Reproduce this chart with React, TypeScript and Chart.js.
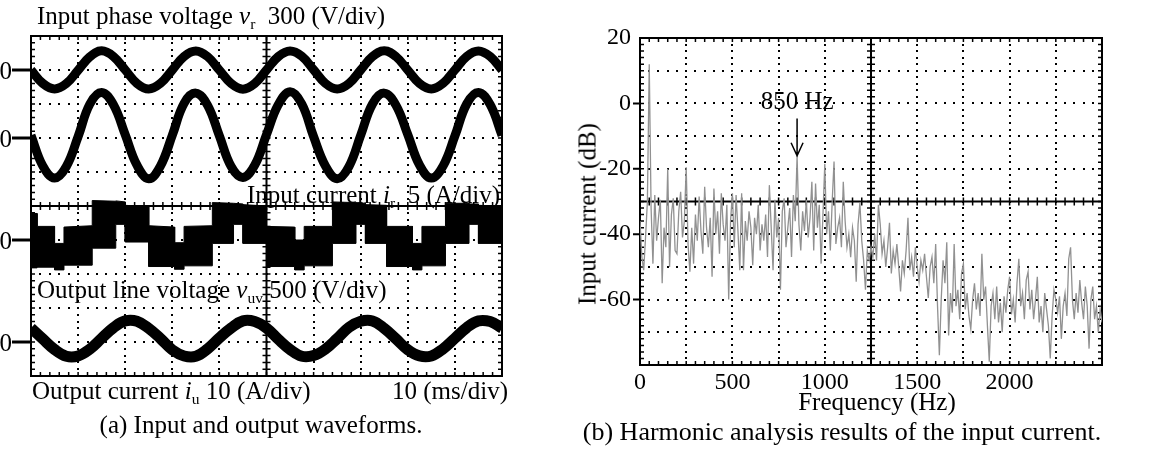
import React, { useEffect, useRef } from 'react';
import { Chart, registerables } from 'chart.js';

Chart.register(...registerables);

const SERIF = '"Liberation Serif", "Times New Roman", Times, serif';

// ---------------- (a) oscilloscope waveforms (10 ms/div) ----------------
const waveTimeMs = [
  0, 2.5, 5, 7.5, 10, 12.5, 15, 17.5, 20, 22.5, 25, 27.5, 30, 32.5, 35, 37.5, 40, 42.5, 45, 47.5,
  50, 52.5, 55, 57.5, 60, 62.5, 65, 67.5, 70, 72.5, 75, 77.5, 80, 82.5, 85, 87.5, 90, 92.5, 95, 97.5, 100,
];
// input phase voltage v_r (V), 300 V/div
const inputPhaseVoltageV = [
  0, -118, -167, -120, -2, 117, 169, 120, 1, -119, -168, -118, 0, 120, 168, 118, -1, -120, -169, -119,
  0, 118, 167, 121, 2, -118, -168, -120, 0, 119, 170, 118, -1, -119, -167, -118, 1, 120, 168, 119, 0,
];
// input current i_r (A), 5 A/div
const inputCurrentA = [
  0.4, -4.1, -5.9, -4.2, 0.2, 5.0, 6.7, 4.9, 0.5, -4.0, -6.0, -4.1, 0.4, 5.1, 6.6, 4.8, 0.3, -4.2, -5.8, -4.0,
  0.5, 4.9, 6.8, 5.0, 0.2, -4.1, -6.0, -4.2, 0.4, 5.0, 6.6, 4.8, 0.5, -4.0, -5.9, -4.1, 0.3, 5.0, 6.7, 4.9, 0.4,
];
// output current i_u (A), 10 A/div
const outputCurrentA = [
  4.1, 0.9, -2.2, -4.2, -4.1, -2.1, 1.1, 4.2, 6.2, 6.1, 4.0, 1.0, -2.3, -4.1, -4.2, -2.0, 1.2, 4.1, 6.2, 6.0,
  4.1, 0.8, -2.2, -4.2, -4.0, -2.1, 1.0, 4.3, 6.1, 6.2, 4.0, 0.9, -2.3, -4.1, -4.1, -2.0, 1.1, 4.2, 6.2, 6.0, 4.1,
];
// output line voltage v_uv (V), 500 V/div : envelope of the PWM band
const lineVoltageTimeMs = [
  0, 1.3, 1.3, 5, 5, 7, 7, 13, 13, 18, 18, 20, 20, 25, 25, 30.5, 30.5, 32.5, 32.5, 38.5, 38.5, 43, 43, 45, 45,
  50, 50, 56, 56, 58, 58, 64, 64, 69, 69, 71, 71, 75.5, 75.5, 81, 81, 83, 83, 88, 88, 93, 93, 95, 95, 100,
];
const lineVoltageUpperV = [
  390, 390, 200, 200, -50, -50, 190, 210, 580, 570, 575, 560, 510, 490, 210, 190, -40, -40, 200, 210, 550, 540, 540, 530, 520,
  500, 200, 190, 0, 0, 200, 200, 560, 550, 550, 540, 520, 510, 200, 200, -50, -50, 200, 200, 540, 540, 530, 530, 510, 500,
];
const lineVoltageLowerV = [
  -410, -410, -400, -400, -440, -440, -370, -370, -120, -120, 230, 230, -30, -30, -390, -390, -430, -430, -380, -380, -50, -50, 230, 230, -50,
  -50, -390, -390, -440, -440, -380, -380, -50, -50, 230, 230, -50, -50, -390, -390, -440, -440, -380, -380, -50, -50, 230, 230, -50, -50,
];

// ---------------- (b) harmonic spectrum of the input current ----------------
const spectrumStepHz = 10;
const inputCurrentSpectrumDb = [
  -36, -47, -51, -41, -30, 12, -32, -49, -28, -42,
  -35, -29.5, -55, -38, -44, -20, -50, -34, -29, -45,
  -46, -33, -27, -41, -36, -19.5, -43, -51.5, -38, -49,
  -34, -42, -28.5, -39, -46, -25.5, -38, -44, -35, -53,
  -26, -40, -33, -46, -27.5, -37, -42, -31, -60, -36,
  -27.5, -44, -28, -39, -51, -27.5, -51, -36, -42, -33,
  -38, -49.5, -35, -40, -31, -45, -37, -42, -34, -47,
  -25, -38, -51, -29.5, -41, -35, -57, -33, -29, -44,
  -38, -32, -47, -28, -36, -16, -37, -45, -33, -39,
  -29.5, -41, -35, -24, -45, -24.5, -38, -31, -49, -34,
  -18.5, -40, -33, -45, -30, -17.8, -43, -38, -35, -44,
  -24, -36, -44, -40, -47, -38, -42, -54.5, -37, -30.5,
  -42, -48, -57, -45, -48, -44, -47, -40, -48, -31,
  -37, -46, -42, -50, -44, -36.5, -52, -45, -49, -43,
  -50, -57.5, -48, -52, -45, -35, -51, -47, -53, -44,
  -50, -54.5, -48, -51, -46, -53, -59.5, -50, -47, -55,
  -43, -62, -77, -60, -48, -55, -42.5, -71, -58, -64,
  -43, -62, -57, -66, -52, -49, -63, -58, -65, -69,
  -60, -55, -63, -58, -65, -46, -60, -56, -68, -79,
  -62, -58, -66, -56, -67, -61, -70, -59, -64, -57,
  -53, -64.5, -60, -67, -55, -47.5, -62, -58, -66, -54,
  -51.5, -63, -57, -66, -60, -53, -67, -62, -70, -58,
  -63, -68, -78, -65, -57, -60, -64, -59, -72, -62,
  -58, -65, -47.5, -44, -60, -66, -58, -64, -54, -61,
  -66, -56, -62, -75, -60, -56, -66, -62, -70, -63,
  -67,
];
const freqTickLabels = [0, 500, 1000, 1500, 2000];
const dbTickLabels = [20, 0, -20, -40, -60];
const annotatedHarmonicHz = 850;
const annotatedHarmonicDb = -16;

type Graticule = { xStep: number; xMinor: number; xCenter: number; yStep: number; yMinor: number; yCenter: number };

function drawGraticule(chart: any, g: Graticule) {
  const ctx: CanvasRenderingContext2D = chart.ctx;
  const a = chart.chartArea;
  const xs = chart.scales.x;
  const ys = chart.scales.y;
  const X = (v: number) => xs.getPixelForValue(v);
  const Y = (v: number) => ys.getPixelForValue(v);
  const nxMinor = Math.round((xs.max - xs.min) / g.xMinor);
  const nyMinor = Math.round((ys.max - ys.min) / g.yMinor);
  const nxMajor = Math.round((xs.max - xs.min) / g.xStep);
  const nyMajor = Math.round((ys.max - ys.min) / g.yStep);
  ctx.save();
  ctx.fillStyle = '#000';
  ctx.strokeStyle = '#000';
  for (let i = 1; i < nxMajor; i++) {
    const xv = xs.min + i * g.xStep;
    if (Math.abs(xv - g.xCenter) < 1e-9) continue;
    const px = Math.round(X(xv));
    for (let j = 0; j <= nyMinor; j++) {
      const py = Math.round(Y(ys.min + j * g.yMinor));
      ctx.fillRect(px - 1, py - 1, 2, 2);
    }
  }
  for (let i = 1; i < nyMajor; i++) {
    const yv = ys.min + i * g.yStep;
    if (Math.abs(yv - g.yCenter) < 1e-9) continue;
    const py = Math.round(Y(yv));
    for (let j = 0; j <= nxMinor; j++) {
      const px = Math.round(X(xs.min + j * g.xMinor));
      ctx.fillRect(px - 1, py - 1, 2, 2);
    }
  }
  const cx = X(g.xCenter);
  const cy = Y(g.yCenter);
  ctx.lineWidth = 2;
  ctx.beginPath();
  ctx.moveTo(cx, a.top);
  ctx.lineTo(cx, a.bottom);
  ctx.moveTo(a.left, cy);
  ctx.lineTo(a.right, cy);
  ctx.stroke();
  ctx.lineWidth = 1.5;
  ctx.beginPath();
  for (let j = 1; j < nxMinor; j++) {
    const px = X(xs.min + j * g.xMinor);
    ctx.moveTo(px, cy - 4);
    ctx.lineTo(px, cy + 4);
    ctx.moveTo(px, a.top);
    ctx.lineTo(px, a.top + 4);
    ctx.moveTo(px, a.bottom);
    ctx.lineTo(px, a.bottom - 4);
  }
  for (let j = 1; j < nyMinor; j++) {
    const py = Y(ys.min + j * g.yMinor);
    ctx.moveTo(cx - 4, py);
    ctx.lineTo(cx + 4, py);
    ctx.moveTo(a.left, py);
    ctx.lineTo(a.left + 4, py);
    ctx.moveTo(a.right, py);
    ctx.lineTo(a.right - 4, py);
  }
  ctx.stroke();
  ctx.lineWidth = 2;
  ctx.strokeRect(a.left, a.top, a.right - a.left, a.bottom - a.top);
  ctx.restore();
}

const CH_OFFSET_DIV = { vr: 4, ir: 2, vuv: -1, iu: -4 };

function WaveformChart() {
  const ref = useRef<HTMLCanvasElement | null>(null);
  useEffect(() => {
    if (!ref.current) return;
    const pts = (ts: number[], vals: number[], perDiv: number, off: number) =>
      ts.map((t, i) => ({ x: t, y: vals[i] / perDiv + off }));
    const chart = new Chart(ref.current, {
      type: 'line',
      data: {
        datasets: [
          {
            data: pts(lineVoltageTimeMs, lineVoltageUpperV, 500, CH_OFFSET_DIV.vuv),
            borderColor: '#000', borderWidth: 1, pointRadius: 0, tension: 0, fill: false,
          },
          {
            data: pts(lineVoltageTimeMs, lineVoltageLowerV, 500, CH_OFFSET_DIV.vuv),
            borderColor: '#000', borderWidth: 1, pointRadius: 0, tension: 0, fill: '-1', backgroundColor: '#000',
          },
          {
            data: pts(waveTimeMs, inputPhaseVoltageV, 300, CH_OFFSET_DIV.vr),
            borderColor: '#000', borderWidth: 9, pointRadius: 0, tension: 0.4, fill: false,
          },
          {
            data: pts(waveTimeMs, inputCurrentA, 5, CH_OFFSET_DIV.ir),
            borderColor: '#000', borderWidth: 9, pointRadius: 0, tension: 0.4, fill: false,
          },
          {
            data: pts(waveTimeMs, outputCurrentA, 10, CH_OFFSET_DIV.iu),
            borderColor: '#000', borderWidth: 11, pointRadius: 0, tension: 0.4, fill: false,
          },
        ],
      },
      options: {
        responsive: false,
        animation: false,
        devicePixelRatio: 1,
        events: [],
        layout: { padding: { left: 31, top: 36, right: 73, bottom: 76 } },
        scales: {
          x: { type: 'linear', min: 0, max: 100, display: false },
          y: { type: 'linear', min: -5, max: 5, display: false },
        },
        plugins: { legend: { display: false }, tooltip: { enabled: false } },
      },
      plugins: [
        {
          id: 'scopeGrid',
          beforeDatasetsDraw(c: any) {
            drawGraticule(c, { xStep: 10, xMinor: 2, xCenter: 50, yStep: 1, yMinor: 0.2, yCenter: 0 });
          },
          afterDraw(c: any) {
            const ctx: CanvasRenderingContext2D = c.ctx;
            const a = c.chartArea;
            ctx.save();
            ctx.fillStyle = '#000';
            ctx.strokeStyle = '#000';
            ctx.lineWidth = 3;
            ctx.font = `25px ${SERIF}`;
            ctx.textAlign = 'right';
            ctx.textBaseline = 'alphabetic';
            Object.values(CH_OFFSET_DIV).forEach((off) => {
              const y = c.scales.y.getPixelForValue(off);
              ctx.beginPath();
              ctx.moveTo(a.left - 19, y);
              ctx.lineTo(a.left, y);
              ctx.stroke();
              ctx.fillText('0', a.left - 19, y + 8.5);
            });
            ctx.restore();
          },
        },
      ],
    } as any);
    return () => chart.destroy();
  }, []);
  return <canvas ref={ref} width={575} height={452} style={{ width: 575, height: 452, display: 'block' }} />;
}

function SpectrumChart() {
  const ref = useRef<HTMLCanvasElement | null>(null);
  useEffect(() => {
    if (!ref.current) return;
    const tickFont = { family: SERIF, size: 24 };
    const chart = new Chart(ref.current, {
      type: 'line',
      data: {
        datasets: [
          {
            data: inputCurrentSpectrumDb.map((db, i) => ({ x: i * spectrumStepHz, y: db })),
            borderColor: 'rgb(145,145,145)',
            borderWidth: 1.3,
            pointRadius: 0,
            tension: 0,
            fill: false,
          },
        ],
      },
      options: {
        responsive: false,
        animation: false,
        devicePixelRatio: 1,
        events: [],
        layout: { padding: { left: 0, top: 38, right: 49, bottom: 34 } },
        scales: {
          x: {
            type: 'linear', min: 0, max: 2500,
            afterBuildTicks: (s: any) => { s.ticks = freqTickLabels.map((v) => ({ value: v })); },
            afterFit: (s: any) => { s.height = 53; },
            ticks: { font: tickFont, color: '#000', padding: 3, maxRotation: 0, autoSkip: false, callback: (v: any) => String(v) },
            grid: { display: false, drawTicks: false },
            border: { display: false },
          },
          y: {
            type: 'linear', min: -80, max: 20,
            afterBuildTicks: (s: any) => { s.ticks = dbTickLabels.map((v) => ({ value: v })); },
            afterFit: (s: any) => { s.width = 65; },
            ticks: { font: tickFont, color: '#000', padding: 9, autoSkip: false, callback: (v: any) => String(v) },
            grid: { display: false, drawTicks: false },
            border: { display: false },
          },
        },
        plugins: { legend: { display: false }, tooltip: { enabled: false } },
      },
      plugins: [
        {
          id: 'specGrid',
          beforeDatasetsDraw(c: any) {
            drawGraticule(c, { xStep: 250, xMinor: 50, xCenter: 1250, yStep: 10, yMinor: 2, yCenter: -30 });
            const ctx: CanvasRenderingContext2D = c.ctx;
            const a = c.chartArea;
            ctx.save();
            ctx.strokeStyle = '#000';
            ctx.lineWidth = 2;
            ctx.beginPath();
            dbTickLabels.forEach((v) => {
              if (v >= c.scales.y.max) return;
              const y = c.scales.y.getPixelForValue(v);
              ctx.moveTo(a.left - 7, y);
              ctx.lineTo(a.left, y);
            });
            ctx.stroke();
            ctx.restore();
          },
          afterDatasetsDraw(c: any) {
            const ctx: CanvasRenderingContext2D = c.ctx;
            const x = c.scales.x.getPixelForValue(annotatedHarmonicHz);
            const y0 = c.scales.y.getPixelForValue(0);
            const tip = c.scales.y.getPixelForValue(annotatedHarmonicDb);
            ctx.save();
            ctx.fillStyle = '#000';
            ctx.strokeStyle = '#000';
            ctx.font = `25px ${SERIF}`;
            ctx.textAlign = 'center';
            ctx.textBaseline = 'alphabetic';
            ctx.fillText(`${annotatedHarmonicHz} Hz`, x, y0 + 6);
            ctx.lineWidth = 1.5;
            ctx.beginPath();
            ctx.moveTo(x, y0 + 15);
            ctx.lineTo(x, tip);
            ctx.moveTo(x - 6, tip - 13);
            ctx.lineTo(x, tip);
            ctx.lineTo(x + 6, tip - 13);
            ctx.stroke();
            ctx.restore();
          },
        },
      ],
    } as any);
    return () => chart.destroy();
  }, []);
  return <canvas ref={ref} width={576} height={452} style={{ width: 576, height: 452, display: 'block' }} />;
}

const Sub = ({ children }: { children: React.ReactNode }) => (
  <span style={{ fontSize: '0.62em', verticalAlign: '-0.3em', fontStyle: 'normal', lineHeight: 0 }}>{children}</span>
);

const txt: React.CSSProperties = {
  position: 'absolute',
  fontFamily: SERIF,
  fontSize: 25,
  lineHeight: 1,
  whiteSpace: 'nowrap',
  color: '#000',
};

export default function App() {
  return (
    <div style={{ position: 'absolute', left: 0, top: 0, width: 1151, height: 452, background: '#fff', overflow: 'hidden' }}>
      <div style={{ position: 'absolute', left: 0, top: 0 }}>
        <WaveformChart />
      </div>
      <div style={{ position: 'absolute', left: 575, top: 0 }}>
        <SpectrumChart />
      </div>

      <div style={{ ...txt, left: 37, top: 3 }}>
        Input phase voltage <i>v</i><Sub>r</Sub>&nbsp;&nbsp;300 (V/div)
      </div>
      <div style={{ ...txt, right: 1151 - 500, top: 182 }}>
        Input current <i>i</i><Sub>r</Sub>&nbsp;&nbsp;5 (A/div)
      </div>
      <div style={{ ...txt, left: 37, top: 277 }}>
        Output line voltage <i>v</i><Sub>uv</Sub> 500 (V/div)
      </div>
      <div style={{ ...txt, left: 32, top: 378 }}>
        Output current <i>i</i><Sub>u</Sub> 10 (A/div)
      </div>
      <div style={{ ...txt, right: 1151 - 508, top: 378 }}>10 (ms/div)</div>
      <div style={{ ...txt, left: 261, top: 412, transform: 'translateX(-50%)' }}>
        (a) Input and output waveforms.
      </div>

      <div style={{ ...txt, left: 877, top: 389, transform: 'translateX(-50%)' }}>Frequency (Hz)</div>
      <div style={{ ...txt, left: 587, top: 214, transform: 'translate(-50%, -50%) rotate(-90deg)' }}>
        Input current (dB)
      </div>
      <div style={{ ...txt, fontSize: 26, left: 842, top: 419, transform: 'translateX(-50%)' }}>
        (b) Harmonic analysis results of the input current.
      </div>
    </div>
  );
}
